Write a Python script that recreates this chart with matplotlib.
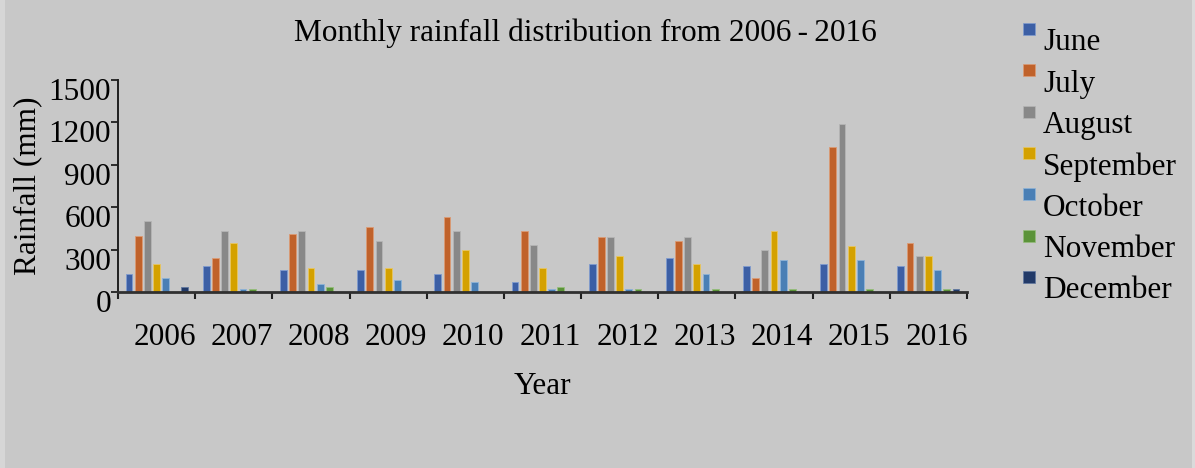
import matplotlib
matplotlib.use("Agg")
import matplotlib.pyplot as plt
import matplotlib.transforms as mtransforms
from matplotlib.patches import Rectangle
import numpy as np

years = ["2006", "2007", "2008", "2009", "2010", "2011", "2012", "2013", "2014", "2015", "2016"]
months = ["June", "July", "August", "September", "October", "November", "December"]
june = [129, 183, 157, 157, 129, 73, 197, 240, 183, 200, 183]
july = [393, 240, 407, 461, 529, 432, 390, 364, 101, 1025, 350]
august = [500, 430, 430, 364, 432, 336, 390, 390, 294, 1191, 254]
september = [200, 350, 172, 172, 294, 169, 254, 197, 432, 322, 254]
october = [101, 19, 59, 87, 73, 19, 19, 129, 226, 226, 157]
november = [0, 19, 33, 0, 0, 33, 19, 19, 19, 19, 19]
december = [33, 0, 0, 0, 0, 0, 0, 0, 0, 0, 19]
series = [june, july, august, september, october, november, december]
colors = ["#3C5FA5", "#C0622B", "#888888", "#D4A100", "#4A7FB5", "#5B9339", "#223A68"]
edges = ["#7F9BCF", "#DC9A74", "#B5B5B5", "#E9C760", "#8DB3D8", "#95BE7B", "#6078A0"]
yticks = [0, 300, 600, 900, 1200, 1500]

BG = "#C8C8C8"
FONT = "Liberation Serif"
FS = 22.5
plt.rcParams["font.family"] = FONT

fig = plt.figure(figsize=(11.95, 4.68), dpi=100, facecolor=BG)
ax = fig.add_axes([118/1195, 1 - 292/468, (967-118)/1195, (292-80)/468])
ax.set_facecolor(BG)

x = np.arange(len(years))
pitch = 0.119
width = 0.088
for i, (vals, c, ec) in enumerate(zip(series, colors, edges)):
    ax.bar(x + (i - 3) * pitch, vals, width=width, color=c, edgecolor=ec,
           linewidth=0.6, label=months[i], zorder=2)

ax.set_xlim(-0.5, len(years) - 0.5)
ax.set_ylim(0, 1500)
ax.set_yticks(yticks)
ax.set_yticklabels([str(v) for v in yticks], fontsize=FS)
ax.set_xticks(x)
ax.set_xticklabels(years, fontsize=FS)
ax.set_xticks(np.arange(len(years) + 1) - 0.5, minor=True)
ax.tick_params(axis="x", which="major", length=0, pad=22)
ax.tick_params(axis="x", which="minor", length=5, width=1.5, direction="out", color="#202020")
ax.tick_params(axis="y", length=5, width=1.3, pad=0, color="#202020")
for lab in ax.get_yticklabels():
    lab.set_va("top")
offy = mtransforms.ScaledTranslation(0, 2/100, fig.dpi_scale_trans)
for lab in ax.get_yticklabels():
    lab.set_transform(lab.get_transform() + offy)
offx = mtransforms.ScaledTranslation(8/100, 0, fig.dpi_scale_trans)
for lab in ax.get_xticklabels():
    lab.set_transform(lab.get_transform() + offx)

for s in ["top", "right"]:
    ax.spines[s].set_visible(False)
ax.spines["left"].set_linewidth(1.4)
ax.spines["bottom"].set_linewidth(2.0)
ax.spines["left"].set_color("#202020")
ax.spines["bottom"].set_color("#303030")

ax.set_ylabel("Rainfall (mm)", fontsize=FS)
ax.yaxis.set_label_coords(-76/849, 0.5)
ax.set_xlabel("Year", fontsize=FS)
ax.xaxis.set_label_coords(0.5, -(372-292)/212)

fig.text(585/1195, 1 - 33/468, "Monthly rainfall distribution from 2006\u2009-\u20092016",
         fontsize=FS, ha="center", va="center")

# legend
for i, (m, c) in enumerate(zip(months, colors)):
    yc = 43 + i * 41.3
    fig.patches.append(Rectangle((1023/1195, 1 - (yc - 8)/468), 12/1195, 12/468,
                                 transform=fig.transFigure, facecolor=c,
                                 edgecolor=edges[i], linewidth=0.5))
    fig.text(1043/1195, 1 - yc/468, m, fontsize=FS, ha="left", va="center")

# light strips at the picture edges
fig.patches.append(Rectangle((0, 0), 5/1195, 1, transform=fig.transFigure,
                             facecolor="#D6D6D6", edgecolor="none"))
fig.patches.append(Rectangle((1192/1195, 0), 3/1195, 1, transform=fig.transFigure,
                             facecolor="#DADADA", edgecolor="none"))

fig.savefig("out.png", dpi=100, facecolor=BG)
